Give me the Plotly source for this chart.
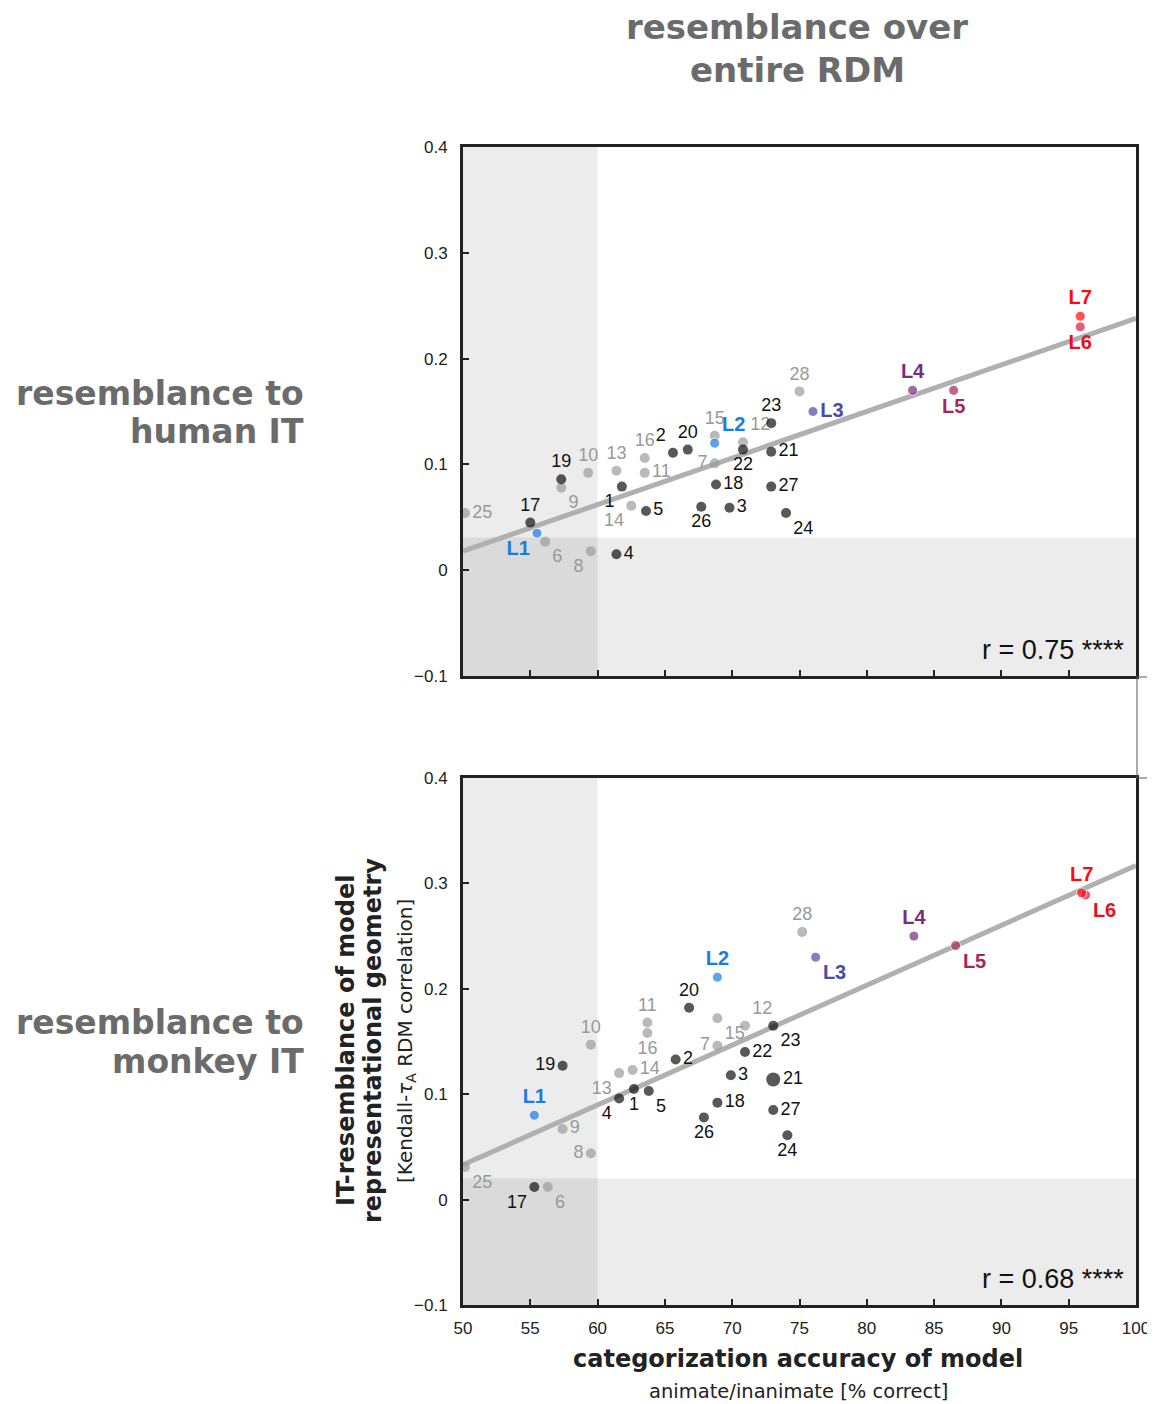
import plotly.graph_objects as go

# ---------------- data ----------------
model_ids = ["1", "2", "3", "4", "5", "6", "7", "8", "9", "10",
             "11", "12", "13", "14", "15", "16", "17", "18", "19", "20",
             "21", "22", "23", "24", "25", "26", "27", "28",
             "L1", "L2", "L3", "L4", "L5", "L6", "L7"]
# model family: 'unsupervised' (gray), 'supervised' (black), 'layer' (deep net layers)
model_type = ["supervised", "supervised", "supervised", "supervised", "supervised",
              "unsupervised", "unsupervised", "unsupervised", "unsupervised", "unsupervised",
              "unsupervised", "unsupervised", "unsupervised", "unsupervised", "unsupervised",
              "unsupervised", "supervised", "supervised", "supervised", "supervised",
              "supervised", "supervised", "supervised", "supervised", "unsupervised",
              "supervised", "supervised", "unsupervised",
              "layer", "layer", "layer", "layer", "layer", "layer", "layer"]

# panel 1: resemblance to human IT
human_accuracy = [61.8, 65.6, 69.8, 61.4, 63.6, 56.1, 68.7, 59.5, 57.3, 59.3,
                  63.5, 70.8, 61.4, 62.5, 68.7, 63.5, 55.0, 68.8, 57.3, 66.7,
                  72.9, 70.8, 72.9, 74.0, 50.15, 67.7, 72.9, 75.0,
                  55.5, 68.7, 76.0, 83.4, 86.45, 95.86, 95.86]
human_it_resemblance = [0.079, 0.111, 0.059, 0.015, 0.056, 0.027, 0.101, 0.018, 0.078, 0.092,
                        0.092, 0.121, 0.094, 0.061, 0.127, 0.106, 0.045, 0.081, 0.086, 0.114,
                        0.112, 0.114, 0.139, 0.054, 0.054, 0.060, 0.079, 0.169,
                        0.035, 0.120, 0.150, 0.170, 0.170, 0.230, 0.240]

# panel 2: resemblance to monkey IT
monkey_accuracy = [62.7, 65.8, 69.9, 61.6, 63.8, 56.3, 68.9, 59.5, 57.4, 59.5,
                   63.7, 70.95, 61.6, 62.6, 68.9, 63.7, 55.3, 68.9, 57.4, 66.8,
                   73.05, 70.95, 73.05, 74.1, 50.15, 67.9, 73.05, 75.2,
                   55.3, 68.9, 76.2, 83.5, 86.6, 96.26, 95.96]
monkey_it_resemblance = [0.105, 0.133, 0.118, 0.096, 0.103, 0.012, 0.146, 0.044, 0.067, 0.147,
                         0.168, 0.165, 0.120, 0.123, 0.172, 0.158, 0.012, 0.092, 0.127, 0.182,
                         0.114, 0.140, 0.165, 0.061, 0.031, 0.078, 0.085, 0.254,
                         0.080, 0.211, 0.230, 0.250, 0.241, 0.289, 0.291]

# linear fits (slope, intercept) and correlation labels
human_fit_slope, human_fit_intercept = 0.0044, -0.202
monkey_fit_slope, monkey_fit_intercept = 0.00568, -0.251
human_r_text = "r = 0.75 ****"
monkey_r_text = "r = 0.68 ****"

# shaded (non-significant) regions
accuracy_chance_bound = 60
human_sig_bound = 0.031
monkey_sig_bound = 0.02

x_ticks = [50, 55, 60, 65, 70, 75, 80, 85, 90, 95, 100]
y_ticks = [-0.1, 0, 0.1, 0.2, 0.3, 0.4]
y_tick_labels = ["\u22120.1", "0", "0.1", "0.2", "0.3", "0.4"]
x_range = [50, 100]
y_range = [-0.1, 0.4]

# ---------------- styles ----------------
OFF = 8  # body margin of the html page
W, H = 1155, 1404
ARIAL = "Liberation Sans, Arial, sans-serif"
WIDE = "DejaVu Sans, Verdana, sans-serif"
HEAD_GRAY = "#6b6b6b"

type_marker = {"supervised": "#111111", "unsupervised": "#9c9c9c"}
type_label = {"supervised": "#111111", "unsupervised": "#999999"}
layer_marker = {"L1": "#1a7be3", "L2": "#1a7be3", "L3": "#4b4ba8", "L4": "#7a2c7c",
                "L5": "#a8255a", "L6": "#d81c40", "L7": "#ff0a0a"}
layer_label = {"L1": "#1a7be3", "L2": "#1a7be3", "L3": "#4b4ba8", "L4": "#7a2c7c",
               "L5": "#a8255a", "L6": "#e8101e", "L7": "#ff0a0a"}

human_pos = {"1": "bottom left", "2": "top left", "3": "middle right", "4": "middle right",
             "5": "middle right", "6": "bottom right", "7": "middle left", "8": "bottom left",
             "9": "bottom right", "10": "top center", "11": "middle right", "12": "top right",
             "13": "top center", "14": "bottom left", "15": "top center", "16": "top center",
             "17": "top center", "18": "middle right", "19": "top center", "20": "top center",
             "21": "middle right", "22": "bottom center", "23": "top center", "24": "bottom right",
             "25": "middle right", "26": "bottom center", "27": "middle right", "28": "top center",
             "L1": "bottom left", "L2": "top right", "L3": "middle right", "L4": "top center",
             "L5": "bottom center", "L6": "bottom center", "L7": "top center"}
monkey_pos = {"1": "bottom center", "2": "middle right", "3": "middle right", "4": "bottom left",
              "5": "bottom right", "6": "bottom right", "7": "middle left", "8": "middle left",
              "9": "middle right", "10": "top center", "11": "top center", "12": "top right",
              "13": "bottom left", "14": "middle right", "15": "bottom right", "16": "bottom center",
              "17": "bottom left", "18": "middle right", "19": "middle left", "20": "top center",
              "21": "middle right", "22": "middle right", "23": "bottom right", "24": "bottom center",
              "25": "bottom right", "26": "bottom center", "27": "middle right", "28": "top center",
              "L1": "top center", "L2": "top center", "L3": "bottom right", "L4": "top center",
              "L5": "bottom right", "L6": "bottom right", "L7": "top center"}
size_override = {("monkey", "21"): 14}


def px_x(p):
    return (p - OFF) / W


def px_y(p):
    return 1 - (p - OFF) / H


fig = go.Figure()

panels = [
    ("human", human_accuracy, human_it_resemblance, human_fit_slope, human_fit_intercept,
     human_pos, "x", "y"),
    ("monkey", monkey_accuracy, monkey_it_resemblance, monkey_fit_slope, monkey_fit_intercept,
     monkey_pos, "x2", "y2"),
]

for name, xs, ys, slope, icpt, pos, xa, ya in panels:
    fx = list(x_range)
    fy = [slope * v + icpt for v in fx]
    fig.add_trace(go.Scatter(x=fx, y=fy, mode="lines", xaxis=xa, yaxis=ya,
                             line=dict(color="#b0b0b0", width=5), hoverinfo="skip",
                             showlegend=False))
    for group in ["unsupervised", "supervised", "layer"]:
        idx = [i for i, t in enumerate(model_type) if t == group]
        ids = [model_ids[i] for i in idx]
        if group == "layer":
            mcol = [layer_marker[m] for m in ids]
            tcol = [layer_label[m] for m in ids]
            tfont = dict(family=ARIAL, size=20, color=tcol, weight="bold")
            lw = 1
        else:
            mcol = [type_marker[group]] * len(ids)
            tcol = [type_label[group]] * len(ids)
            tfont = dict(family=ARIAL, size=18, color=tcol)
            lw = 0
        sizes = [size_override.get((name, m), 10) for m in ids]
        fig.add_trace(go.Scatter(
            x=[xs[i] for i in idx], y=[ys[i] for i in idx],
            mode="markers+text", xaxis=xa, yaxis=ya,
            text=ids, textposition=[pos[m] for m in ids], textfont=tfont,
            marker=dict(color=mcol, size=sizes, line=dict(color="white", width=lw)),
            showlegend=False, hoverinfo="skip"))

# shading
shade = "rgba(0,0,0,0.075)"
for xa, ya, bound in [("x", "y", human_sig_bound), ("x2", "y2", monkey_sig_bound)]:
    fig.add_shape(type="rect", xref=xa, yref=ya, x0=x_range[0], x1=accuracy_chance_bound,
                  y0=y_range[0], y1=y_range[1], fillcolor=shade, line_width=0, layer="below")
    fig.add_shape(type="rect", xref=xa, yref=ya, x0=x_range[0], x1=x_range[1],
                  y0=y_range[0], y1=bound, fillcolor=shade, line_width=0, layer="below")

# stray frame lines at the right edge (as in the figure)
for (x0, y0, x1, y1) in [(1136, 677, 1155, 677), (1137, 677, 1137, 778), (1136, 778, 1155, 778)]:
    fig.add_shape(type="line", xref="paper", yref="paper", x0=px_x(x0), x1=px_x(x1),
                  y0=px_y(y0), y1=px_y(y1), line=dict(color="#555555", width=1))

axis_common = dict(showline=True, linewidth=3, linecolor="#222222", mirror=True,
                   ticks="inside", ticklen=6, tickwidth=2, tickcolor="#222222",
                   showgrid=False, zeroline=False, automargin=False,
                   tickfont=dict(family=ARIAL, size=17, color="#222222"))
xdom = [px_x(463), px_x(1136)]
fig.update_layout(
    width=W, height=H, autosize=False,
    margin=dict(l=0, r=0, t=0, b=0, pad=0, autoexpand=False),
    paper_bgcolor="white", plot_bgcolor="white",
    xaxis=dict(domain=xdom, range=x_range, tickvals=x_ticks, showticklabels=False,
               anchor="y", **axis_common),
    yaxis=dict(domain=[px_y(676), px_y(147)], range=y_range, tickvals=y_ticks,
               ticktext=y_tick_labels, anchor="x", ticklabelstandoff=9, **axis_common),
    xaxis2=dict(domain=xdom, range=x_range, tickvals=x_ticks, anchor="y2",
                ticklabelstandoff=6, **axis_common),
    yaxis2=dict(domain=[px_y(1305), px_y(778)], range=y_range, tickvals=y_ticks,
                ticktext=y_tick_labels, anchor="x2", ticklabelstandoff=9, **axis_common),
)

annots = []


def txt(text, x, y, size, color, family=WIDE, bold=True, xanchor="center", angle=0):
    t = f"<b>{text}</b>" if bold else text
    annots.append(dict(text=t, x=px_x(x), y=px_y(y), xref="paper", yref="paper",
                       xanchor=xanchor, yanchor="middle", showarrow=False, textangle=angle,
                       font=dict(family=family, size=size, color=color)))


txt("resemblance over", 797, 27, 34, HEAD_GRAY)
txt("entire RDM", 797, 70, 34, HEAD_GRAY)
txt("resemblance to", 306, 393, 33, HEAD_GRAY, xanchor="right")
txt("human IT", 306, 431, 33, HEAD_GRAY, xanchor="right")
txt("resemblance to", 306, 1023, 33, HEAD_GRAY, xanchor="right")
txt("monkey IT", 306, 1061, 33, HEAD_GRAY, xanchor="right")
txt("categorization accuracy of model", 798, 1359, 24, "#222222")
txt("animate/inanimate [% correct]", 798, 1391, 19.5, "#222222", bold=False)
txt("IT-resemblance of model", 346, 1041, 24, "#222222", angle=-90)
txt("representational geometry", 373, 1041, 24, "#222222", angle=-90)
txt("[Kendall-<i>\u03c4</i><sub>A</sub> RDM correlation]", 406, 1041, 20, "#222222",
    bold=False, angle=-90)
txt(human_r_text, 1126, 650, 27, "#111111", family=ARIAL, bold=False, xanchor="right")
txt(monkey_r_text, 1126, 1279, 27, "#111111", family=ARIAL, bold=False, xanchor="right")

fig.update_layout(annotations=annots)
fig.write_html("out.html")
